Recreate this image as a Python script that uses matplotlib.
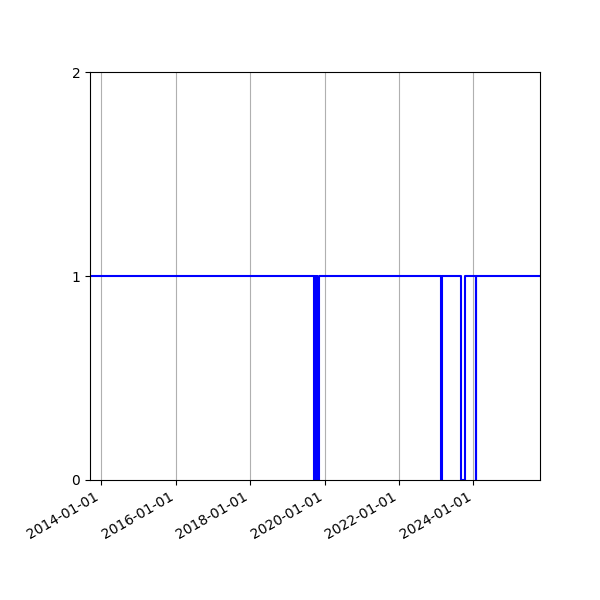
import numpy as np
import pandas as pd
import matplotlib
matplotlib.use("Agg")
import matplotlib.pyplot as plt
import matplotlib.dates as mdates

# change points of the status series (step, value holds until next date)
change_dates = [
    "2013-09-12",
    "2019-09-15", "2019-09-25", "2019-09-27", "2019-10-02", "2019-10-03",
    "2019-10-10", "2019-10-12", "2019-10-20", "2019-10-22", "2019-11-07",
    "2023-02-18", "2023-02-24",
    "2023-08-31", "2023-10-07",
    "2024-01-25", "2024-01-31",
    "2025-10-16",
]
change_values = [
    1,
    0, 1, 0, 1, 0,
    1, 0, 1, 0, 1,
    0, 1,
    0, 1,
    0, 1,
    1,
]
y_ticks = [0, 1, 2]

dates = pd.to_datetime(change_dates)

fig, ax = plt.subplots(figsize=(6, 6), dpi=100)
ax.step(dates, change_values, where="post", color="blue")

ax.set_xlim(dates[0], dates[-1])
ax.set_ylim(0, 2)
ax.set_yticks(y_ticks)
ax.xaxis.set_major_locator(mdates.YearLocator(2))
ax.xaxis.set_major_formatter(mdates.DateFormatter("%Y-%m-%d"))
ax.grid(axis="x")

fig.autofmt_xdate()
fig.subplots_adjust(left=0.15, right=0.9, top=0.88, bottom=0.2)
fig.savefig("out.png")
